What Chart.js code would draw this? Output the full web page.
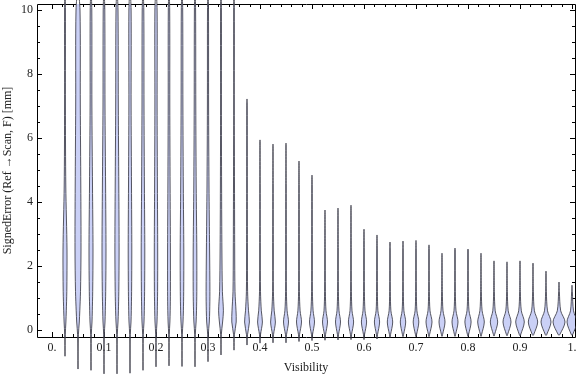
<!DOCTYPE html>
<html>
<head>
<meta charset="utf-8">
<script src="https://cdn.jsdelivr.net/npm/chart.js@4.4.1/dist/chart.umd.min.js"></script>
<style>
  html, body { margin: 0; padding: 0; background: #fff; }
  canvas { display: block; }
</style>
</head>
<body>
<canvas id="violinChart" width="576" height="377"></canvas>
<script>
// one violin per visibility bin
const visibility = [0.025, 0.05, 0.075, 0.1, 0.125, 0.15, 0.175, 0.2, 0.225, 0.25,
  0.275, 0.3, 0.325, 0.35, 0.375, 0.4, 0.425, 0.45, 0.475, 0.5,
  0.525, 0.55, 0.575, 0.6, 0.625, 0.65, 0.675, 0.7, 0.725, 0.75,
  0.775, 0.8, 0.825, 0.85, 0.875, 0.9, 0.925, 0.95, 0.975, 1.0];

const errMin = [-0.82, -1.22, -1.26, -1.37, -1.37, -1.35, -1.26, -1.15, -1.12, -1.14,
  -1.15, -0.99, -0.78, -0.63, -0.47, -0.41, -0.4, -0.4, -0.36, -0.33,
  -0.32, -0.31, -0.3, -0.3, -0.28, -0.23, -0.21, -0.21, -0.21, -0.2,
  -0.2, -0.2, -0.2, -0.19, -0.18, -0.18, -0.17, -0.17, -0.16, -0.16];

const errMax = [10.6, 10.6, 10.6, 10.6, 10.6, 10.6, 10.6, 10.6, 10.6, 10.6,
  10.6, 10.6, 10.6, 10.6, 7.22, 5.94, 5.81, 5.84, 5.28, 4.84,
  3.75, 3.81, 3.9, 3.15, 2.97, 2.75, 2.78, 2.8, 2.66, 2.4,
  2.56, 2.53, 2.4, 2.16, 2.13, 2.16, 2.09, 1.84, 1.5, 1.4];

// density (half width) of each violin at these error levels
const levels = [-0.15, 0.25, 0.6, 1.2, 2.5, 4.5, 7, 10];
const density = [
  [0.3, 0.9, 1.3, 1.8, 2.0, 0.8, 0.4, 0.4],
  [0.4, 1.3, 1.8, 2.5, 3.0, 2.8, 2.3, 2.0],
  [0.3, 1.0, 1.3, 1.7, 2.0, 1.5, 0.9, 0.8],
  [0.3, 1.0, 1.3, 1.7, 2.0, 1.6, 1.0, 0.8],
  [0.3, 1.0, 1.4, 1.8, 2.1, 1.8, 1.3, 1.0],
  [0.3, 1.0, 1.3, 1.6, 1.8, 1.5, 1.1, 1.1],
  [0.3, 1.0, 1.3, 1.6, 1.8, 1.4, 1.0, 0.8],
  [0.3, 1.0, 1.3, 1.6, 1.7, 1.4, 1.1, 1.1],
  [0.3, 0.9, 1.2, 1.4, 1.4, 1.1, 0.8, 0.7],
  [0.3, 1.0, 1.4, 1.7, 1.8, 1.3, 0.9, 0.7],
  [0.3, 1.1, 1.5, 1.8, 1.8, 1.2, 0.8, 0.6],
  [0.3, 1.3, 1.7, 1.9, 1.6, 1.0, 0.6, 0.5],
  [0.3, 1.6, 2.4, 1.4, 0.9, 0.6, 0.4, 0.4],
  [0.4, 2.2, 2.0, 1.0, 0.7, 0.5, 0.3, 0.3],
  [0.5, 2.4, 1.5, 0.6, 0.4, 0.3, 0.2, 0],
  [0.5, 2.4, 1.3, 0.5, 0.3, 0.2, 0, 0],
  [0.5, 2.4, 1.2, 0.4, 0.3, 0.2, 0, 0],
  [0.5, 2.5, 1.1, 0.4, 0.3, 0.2, 0, 0],
  [0.5, 2.5, 1.1, 0.4, 0.3, 0.2, 0, 0],
  [0.5, 2.5, 1.1, 0.4, 0.3, 0.2, 0, 0],
  [0.5, 2.5, 1.0, 0.4, 0.25, 0, 0, 0],
  [0.5, 2.5, 1.0, 0.4, 0.25, 0, 0, 0],
  [0.5, 2.6, 1.0, 0.4, 0.25, 0, 0, 0],
  [0.5, 2.6, 1.0, 0.4, 0.25, 0, 0, 0],
  [0.5, 2.6, 0.9, 0.4, 0.25, 0, 0, 0],
  [0.5, 2.7, 0.9, 0.35, 0.2, 0, 0, 0],
  [0.5, 2.7, 0.9, 0.35, 0.2, 0, 0, 0],
  [0.5, 2.8, 0.9, 0.35, 0.2, 0, 0, 0],
  [0.5, 3.0, 1.0, 0.35, 0.2, 0, 0, 0],
  [0.5, 3.0, 1.0, 0.35, 0, 0, 0, 0],
  [0.5, 3.0, 1.0, 0.35, 0.2, 0, 0, 0],
  [0.5, 3.1, 1.0, 0.35, 0.2, 0, 0, 0],
  [0.5, 3.3, 1.1, 0.35, 0, 0, 0, 0],
  [0.5, 3.7, 1.2, 0.35, 0, 0, 0, 0],
  [0.5, 4.0, 1.2, 0.35, 0, 0, 0, 0],
  [0.6, 4.3, 1.3, 0.35, 0, 0, 0, 0],
  [0.6, 4.7, 1.4, 0.35, 0, 0, 0, 0],
  [0.6, 5.0, 1.5, 0.35, 0, 0, 0, 0],
  [0.7, 6.0, 1.7, 0.35, 0, 0, 0, 0],
  [0.6, 5.0, 1.5, 0.35, 0, 0, 0, 0]
];

const xTicks = [0, 0.1, 0.2, 0.3, 0.4, 0.5, 0.6, 0.7, 0.8, 0.9, 1];
const xTickLabels = ['0.', '0.1', '0.2', '0.3', '0.4', '0.5', '0.6', '0.7', '0.8', '0.9', '1.'];
const yTicks = [0, 2, 4, 6, 8, 10];
const yTickLabels = ['0', '2', '4', '6', '8', '10'];

const WIDTH = 1 / 520; // x units per density unit
const FONT = { family: "'Liberation Serif', 'Times New Roman', serif", size: 12 };
const TEXT = '#222';

// outline of one violin: up the right side, down the left side
function violinPoints(i) {
  const x = visibility[i], lo = errMin[i], hi = errMax[i];
  const pts = [{ x: x, y: lo }];
  levels.forEach((lv, j) => {
    if (lv > lo && lv < hi) pts.push({ x: x + density[i][j] * WIDTH, y: lv });
  });
  pts.push({ x: x, y: hi });
  for (let j = levels.length - 1; j >= 0; j--) {
    const lv = levels[j];
    if (lv > lo && lv < hi) pts.push({ x: x - density[i][j] * WIDTH, y: lv });
  }
  pts.push({ x: x, y: lo });
  return pts;
}

const datasets = visibility.map((v, i) => ({
  data: violinPoints(i),
  showLine: true,
  fill: 'shape',
  backgroundColor: 'rgb(202, 208, 246)',
  borderColor: 'rgba(60, 60, 72, 0.85)',
  borderWidth: 1,
  pointRadius: 0,
  tension: 0.3,
  clip: false
}));

// Mathematica style frame with inward ticks on all four sides
const framePlugin = {
  id: 'frame',
  beforeDatasetsDraw(chart) {
    const { ctx, chartArea: a, scales: { x, y } } = chart;
    ctx.save();
    ctx.strokeStyle = '#000';
    ctx.lineWidth = 1;
    ctx.beginPath();
    ctx.rect(a.left + 0.5, a.top + 0.5, a.right - a.left, a.bottom - a.top);
    ctx.stroke();

    ctx.beginPath();
    for (let k = 0; k <= 50; k++) {
      const v = k / 50;
      const len = k % 5 === 0 ? 5 : 3;
      const px = Math.round(x.getPixelForValue(v)) + 0.5;
      ctx.moveTo(px, a.bottom); ctx.lineTo(px, a.bottom - len);
      ctx.moveTo(px, a.top); ctx.lineTo(px, a.top + len);
    }
    for (let k = 0; k <= 20; k++) {
      const v = k / 2;
      const len = k % 4 === 0 ? 5 : 3;
      const py = Math.round(y.getPixelForValue(v)) + 0.5;
      ctx.moveTo(a.left, py); ctx.lineTo(a.left + len, py);
      ctx.moveTo(a.right, py); ctx.lineTo(a.right - len, py);
    }
    ctx.stroke();
    ctx.restore();
  }
};

new Chart(document.getElementById('violinChart'), {
  type: 'scatter',
  data: { datasets: datasets },
  options: {
    responsive: false,
    animation: false,
    layout: { padding: { top: 4, right: 1, left: 0, bottom: 0 } },
    elements: { line: { capBezierPoints: false } },
    plugins: { legend: { display: false }, tooltip: { enabled: false } },
    scales: {
      x: {
        type: 'linear',
        min: -15 / 520,
        max: 1 + 3 / 520,
        grid: { display: false, drawTicks: false },
        border: { display: false },
        afterBuildTicks(s) { s.ticks = xTicks.map(v => ({ value: v })); },
        afterFit(s) { s.height = 40; s.paddingLeft = 0; s.paddingRight = 0; },
        ticks: {
          autoSkip: false, maxRotation: 0, padding: 4,
          font: FONT, color: TEXT,
          callback: (v) => xTickLabels[xTicks.indexOf(v)]
        },
        title: { display: true, text: 'Visibility', font: FONT, color: TEXT, padding: { top: 0, bottom: 2 } }
      },
      y: {
        type: 'linear',
        min: -7 / 32,
        max: 326 / 32,
        grid: { display: false, drawTicks: false },
        border: { display: false },
        afterBuildTicks(s) { s.ticks = yTicks.map(v => ({ value: v })); },
        afterFit(s) { s.width = 37; s.paddingTop = 0; s.paddingBottom = 0; },
        ticks: {
          padding: 4,
          font: FONT, color: TEXT,
          callback: (v) => yTickLabels[yTicks.indexOf(v)]
        },
        title: { display: true, text: 'SignedError (Ref \u2192Scan, F) [mm]', font: FONT, color: TEXT, padding: { top: 1, bottom: 0 } }
      }
    }
  },
  plugins: [framePlugin]
});
</script>
</body>
</html>
